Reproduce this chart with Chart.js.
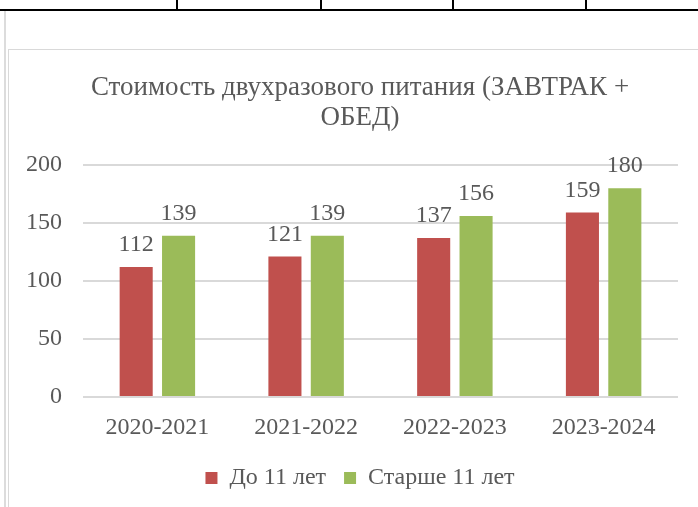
<!DOCTYPE html>
<html>
<head>
<meta charset="utf-8">
<script src="https://cdn.jsdelivr.net/npm/chart.js@4.4.0/dist/chart.umd.js"></script>
<style>
  html, body { margin: 0; padding: 0; background: #fff; }
  body { width: 698px; height: 507px; overflow: hidden; position: relative; font-family: "Liberation Serif", serif; }
  /* обрезанный край таблицы сверху */
  .tline { position: absolute; left: 0; top: 9px; width: 698px; height: 2px; background: #000; }
  .vline { position: absolute; top: 0; width: 2px; height: 10px; background: #000; }
  .cell { position: absolute; top: -19px; font-size: 22px; color: #000; line-height: 22px; }
  .page { position: absolute; left: 4px; top: 11px; width: 2px; height: 500px; background: #dcdcdc; }
  .frame { position: absolute; left: 8px; top: 49px; width: 704px; height: 470px; border: 1px solid #d9d9d9; box-sizing: border-box; }
  #wrap { position: absolute; left: 8px; top: 50px; width: 704px; height: 470px; }
</style>
</head>
<body>
<div class="tline"></div>
<div class="vline" style="left:176px"></div>
<div class="vline" style="left:320px"></div>
<div class="vline" style="left:452px"></div>
<div class="vline" style="left:585px"></div>
<div class="cell" style="left:193px">139</div>
<div class="cell" style="left:338px">139</div>
<div class="cell" style="left:470px">156</div>
<div class="cell" style="left:602px">180</div>
<div class="page"></div>
<div class="frame"></div>
<div id="wrap"><canvas id="chart"></canvas></div>
<script>
// Данные диаграммы
const years = ['2020-2021', '2021-2022', '2022-2023', '2023-2024']
const under11 = [112, 121, 137, 159]
const over11 = [139, 139, 156, 180]
const seriesNames = ['До 11 лет', 'Старше 11 лет']
const titleLines = ['Стоимость двухразового питания (ЗАВТРАК +', 'ОБЕД)']

const textColor = '#595959'
const fontFamily = 'Liberation Serif'

Chart.defaults.font.family = fontFamily

// Подписи значений над столбцами
const valueLabels = {
  id: 'valueLabels',
  afterDatasetsDraw(chart) {
    const ctx = chart.ctx
    ctx.save()
    ctx.fillStyle = textColor
    ctx.font = '24px "' + fontFamily + '"'
    ctx.textAlign = 'center'
    ctx.textBaseline = 'alphabetic'
    chart.data.datasets.forEach((ds, i) => {
      chart.getDatasetMeta(i).data.forEach((bar, j) => {
        ctx.fillText(ds.data[j], bar.x, bar.y - 16)
      })
    })
    ctx.restore()
  }
}

new Chart(document.getElementById('chart'), {
  type: 'bar',
  data: {
    labels: years,
    datasets: [
      { label: seriesNames[0], data: under11, backgroundColor: '#C0504D' },
      { label: seriesNames[1], data: over11, backgroundColor: '#9BBB59' }
    ]
  },
  options: {
    responsive: true,
    maintainAspectRatio: false,
    animation: false,
    devicePixelRatio: 1,
    layout: { padding: { top: 23, right: 0, bottom: 20, left: 0 } },
    datasets: { bar: { categoryPercentage: 0.57, barPercentage: 0.78 } },
    plugins: {
      title: {
        display: true,
        text: titleLines,
        color: textColor,
        font: { size: 27, weight: 'normal', lineHeight: 1.11 },
        padding: { top: 0, bottom: 32 }
      },
      legend: {
        position: 'bottom',
        labels: {
          color: textColor,
          font: { size: 24 },
          boxWidth: 12,
          boxHeight: 12,
          padding: 18
        }
      },
      tooltip: { enabled: false }
    },
    scales: {
      x: {
        afterFit(scale) { scale.height = 51 },
        grid: { display: false, drawTicks: false },
        border: { display: false },
        ticks: { color: textColor, font: { size: 24 }, padding: 16 }
      },
      y: {
        min: 0,
        max: 200,
        afterFit(scale) { scale.width = 75 },
        grid: { color: '#D9D9D9', lineWidth: 2, drawTicks: false },
        border: { display: false },
        ticks: { stepSize: 50, color: textColor, font: { size: 24 }, padding: 21 }
      },
      // пустое поле справа от области построения
      yRight: {
        position: 'right',
        afterFit(scale) { scale.width = 34 },
        grid: { display: false, drawTicks: false },
        border: { display: false },
        ticks: { display: false }
      }
    }
  },
  plugins: [valueLabels]
})
</script>
</body>
</html>
